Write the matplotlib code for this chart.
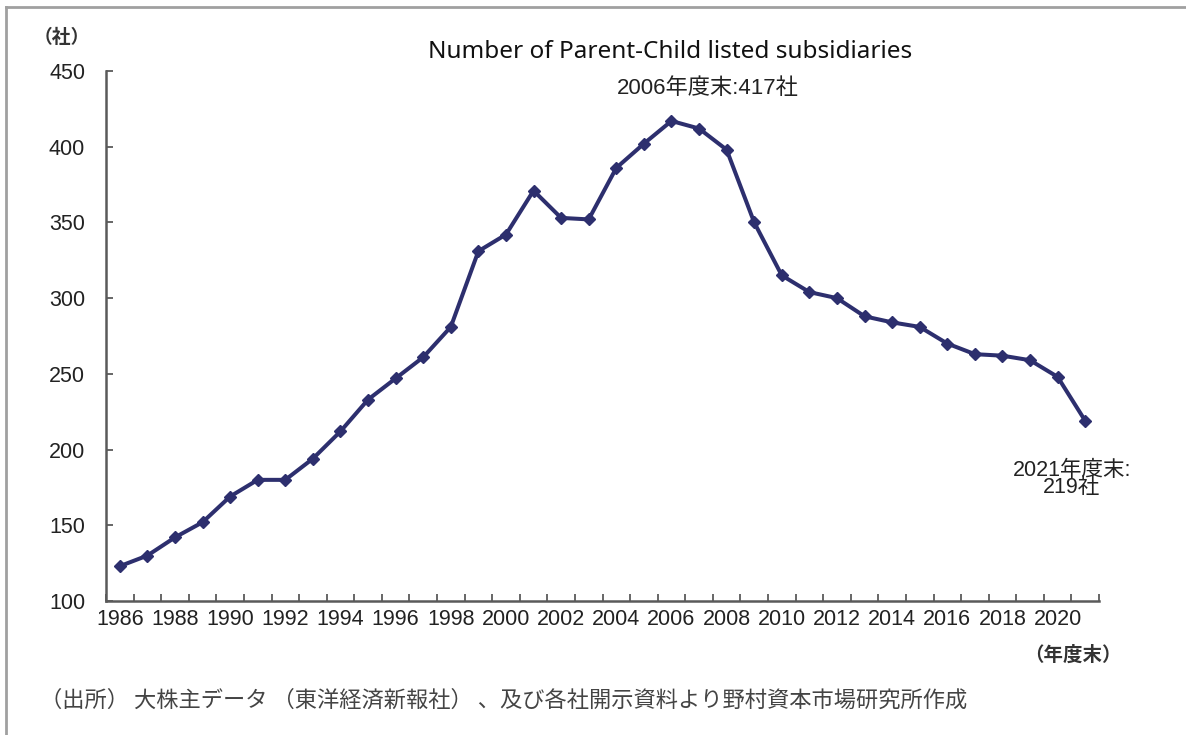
import matplotlib
matplotlib.use("Agg")
from matplotlib import pyplot as plt
from matplotlib.lines import Line2D
from matplotlib.ticker import FixedLocator
import numpy as np

plt.rcParams['font.family'] = ['Liberation Sans', 'Noto Sans CJK JP', 'DejaVu Sans']

# number of listed subsidiaries, fiscal year end
years = list(range(1986, 2022))
counts = [123, 130, 142, 152, 169, 180, 180, 194, 212, 233, 247, 261,
          281, 331, 342, 371, 353, 352, 386, 402, 417, 412, 398, 350,
          315, 304, 300, 288, 284, 281, 270, 263, 262, 259, 248, 219]
year_labels = [str(y) for y in years[::2]]
y_ticks = [100, 150, 200, 250, 300, 350, 400, 450]

title = "Number of Parent-Child listed subsidiaries"
peak_note = "2006年度末:417社"
last_note = "2021年度末:\n219社"
y_unit = "（社）"
x_unit = "（年度末）"
source = "（出所） 大株主データ （東洋経済新報社） 、及び各社開示資料より野村資本市場研究所作成"

line_col = '#2d2f6e'
axis_col = '#5a5a5a'
text_col = '#222222'

fig = plt.figure(figsize=(11.86, 7.35), dpi=100)
ax = fig.add_axes([106 / 1186, 1 - 601 / 735, (1099 - 106) / 1186, (601 - 71) / 735])

ax.plot(years, counts, color=line_col, lw=2.9, marker='D', ms=6.5,
        mfc=line_col, mec=line_col, zorder=3)

ax.set_xlim(years[0] - 0.5, years[-1] + 0.5)
ax.set_ylim(100, 450)

ax.xaxis.set_major_locator(FixedLocator(years[::2]))
ax.set_xticklabels(year_labels)
ax.xaxis.set_minor_locator(FixedLocator(np.arange(years[0] - 0.5, years[-1] + 1, 1.0)))
ax.tick_params(axis='x', which='major', length=0, pad=6, labelsize=15.5, labelcolor=text_col)
ax.tick_params(axis='x', which='minor', direction='in', length=5, width=1.3, color=axis_col)

ax.set_yticks(y_ticks)
ax.tick_params(axis='y', direction='in', length=5, width=1.3, color=axis_col,
               pad=15, labelsize=15.5, labelcolor=text_col)

for s in ['top', 'right']:
    ax.spines[s].set_visible(False)
for s in ['left', 'bottom']:
    ax.spines[s].set_color(axis_col)
    ax.spines[s].set_linewidth(1.8)

# annotations
ax.annotate(peak_note, xy=(2006, 417), xytext=(708 / 1186, 1 - 88 / 735),
            textcoords='figure fraction', ha='center', va='center',
            fontsize=16, color=text_col)
ax.annotate(last_note, xy=(2021, 219), xytext=(1072 / 1186, 1 - 479 / 735),
            textcoords='figure fraction', ha='center', va='center',
            fontsize=15.5, color=text_col, linespacing=0.8)

fig.text(670 / 1186, 1 - 52 / 735, title, ha='center', va='center',
         fontsize=17.5, family=['Noto Sans', 'DejaVu Sans'], color='#111111')
fig.text(62 / 1186, 1 - 38 / 735, y_unit, ha='center', va='center',
         fontsize=13.5, weight='bold', color='#333333')
fig.text(1122 / 1186, 1 - 655 / 735, x_unit, ha='right', va='center',
         fontsize=14, weight='bold', color='#333333')
fig.text(40 / 1186, 1 - 700 / 735, source, ha='left', va='center',
         fontsize=16, family=['Noto Sans CJK JP'], color='#444444')

# frame on top and left edges
fig.add_artist(Line2D([6 / 1186, 6 / 1186], [0, 1 - 7 / 735], transform=fig.transFigure,
                      color='#a0a0a0', lw=2))
fig.add_artist(Line2D([6 / 1186, 1], [1 - 7 / 735, 1 - 7 / 735], transform=fig.transFigure,
                      color='#a0a0a0', lw=2))

fig.savefig('out.png', dpi=100)
